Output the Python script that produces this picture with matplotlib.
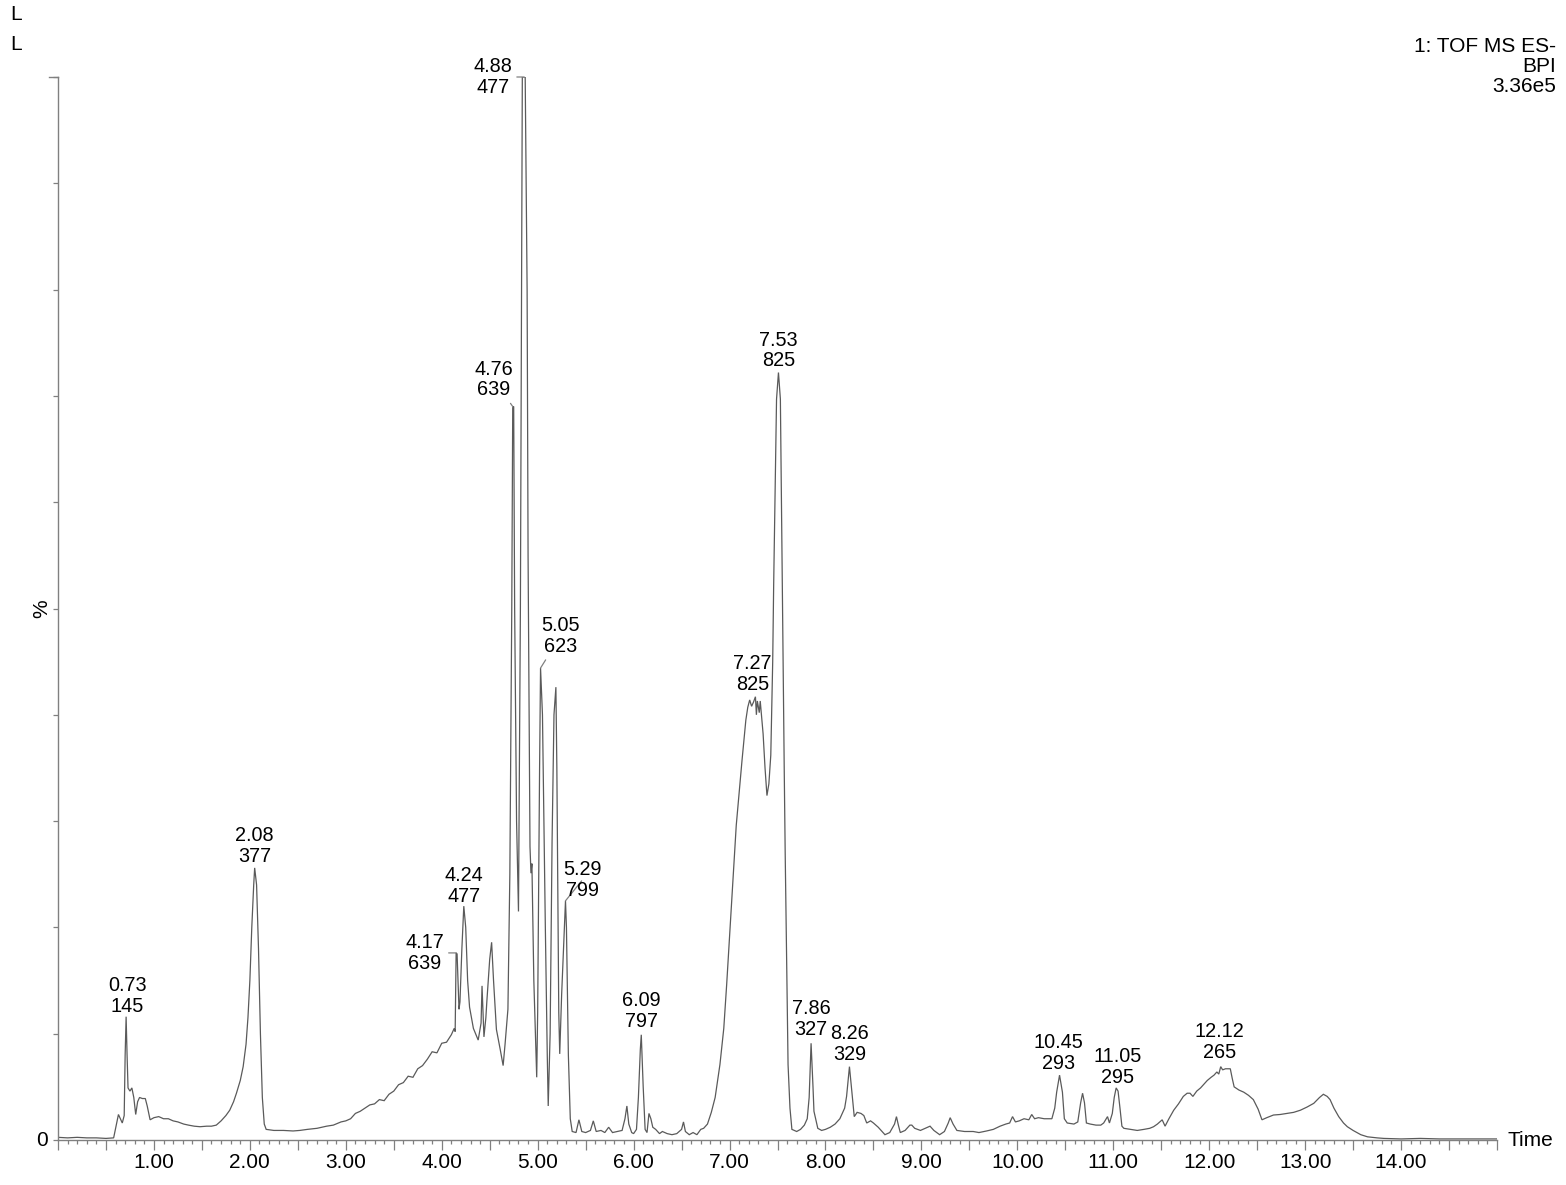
import matplotlib
matplotlib.use("Agg")
import matplotlib.pyplot as plt
from matplotlib.ticker import MultipleLocator, FuncFormatter

plt.rcParams['font.family'] = ['Liberation Sans', 'DejaVu Sans']

# ---------------- data ----------------
trace = [
    (0.00, 0.25), (0.10, 0.2), (0.20, 0.25), (0.30, 0.2), (0.40, 0.2), (0.50, 0.15), (0.58, 0.2),
    (0.61, 1.5), (0.63, 2.4), (0.65, 2.0), (0.67, 1.6), (0.69, 2.3), (0.70, 8.0), (0.71, 11.6),
    (0.72, 8.0), (0.73, 4.9), (0.75, 4.6), (0.77, 4.9), (0.79, 4.0), (0.81, 2.4), (0.83, 3.6),
    (0.85, 4.0), (0.88, 3.9), (0.91, 3.9), (0.93, 3.2), (0.96, 1.9), (1.00, 2.1), (1.05, 2.2),
    (1.10, 2.0), (1.15, 2.0), (1.20, 1.8), (1.25, 1.7), (1.31, 1.5), (1.36, 1.4), (1.42, 1.3),
    (1.48, 1.25), (1.55, 1.3), (1.60, 1.3), (1.65, 1.4), (1.70, 1.8), (1.75, 2.3), (1.79, 2.8),
    (1.83, 3.6), (1.86, 4.4), (1.90, 5.6), (1.93, 6.9), (1.96, 9.0), (1.98, 11.5), (2.00, 15.0),
    (2.02, 20.0), (2.04, 24.0), (2.05, 25.6), (2.07, 24.0), (2.09, 18.0), (2.11, 10.0), (2.13, 4.0),
    (2.15, 1.5), (2.17, 1.0), (2.25, 0.9), (2.35, 0.9), (2.45, 0.85), (2.52, 0.9), (2.60, 1.0),
    (2.70, 1.1), (2.80, 1.3), (2.87, 1.4), (2.95, 1.7), (3.00, 1.8), (3.05, 2.0), (3.10, 2.5),
    (3.15, 2.7), (3.20, 3.0), (3.25, 3.3), (3.30, 3.4), (3.35, 3.8), (3.40, 3.7), (3.45, 4.3),
    (3.50, 4.6), (3.55, 5.2), (3.60, 5.4), (3.65, 6.0), (3.70, 5.9), (3.75, 6.7), (3.80, 7.0),
    (3.85, 7.6), (3.90, 8.3), (3.95, 8.2), (4.00, 9.1), (4.05, 9.2), (4.10, 9.9), (4.13, 10.5),
    (4.14, 10.2), (4.15, 17.6), (4.16, 17.5), (4.17, 15.0), (4.18, 12.3), (4.19, 13.0), (4.21, 18.0),
    (4.23, 22.0), (4.25, 20.0), (4.27, 15.0), (4.29, 12.5), (4.33, 10.5), (4.38, 9.4), (4.41, 11.0),
    (4.42, 14.5), (4.43, 12.0), (4.44, 9.7), (4.46, 11.5), (4.47, 13.0), (4.50, 17.0), (4.52, 18.6),
    (4.54, 15.0), (4.57, 10.4), (4.61, 8.5), (4.64, 7.0), (4.66, 9.0), (4.69, 12.3), (4.71, 25.0),
    (4.73, 50.0), (4.74, 68.9), (4.75, 69.0), (4.76, 50.0), (4.78, 30.0), (4.80, 21.5), (4.82, 50.0),
    (4.84, 100.0), (4.86, 100.0), (4.87, 100.0), (4.89, 80.0), (4.90, 55.0), (4.92, 27.6),
    (4.93, 25.1), (4.94, 26.0), (4.96, 15.0), (4.99, 5.9), (5.00, 12.0), (5.02, 35.0), (5.03, 44.4),
    (5.05, 40.0), (5.08, 20.0), (5.10, 8.0), (5.11, 3.2), (5.13, 10.0), (5.15, 28.0), (5.17, 40.0),
    (5.19, 42.6), (5.20, 35.0), (5.22, 12.0), (5.23, 8.1), (5.25, 13.7), (5.27, 18.0), (5.29, 22.5),
    (5.30, 20.0), (5.32, 8.0), (5.34, 2.0), (5.36, 0.8), (5.40, 0.7), (5.43, 1.9), (5.46, 0.8),
    (5.50, 0.7), (5.55, 0.9), (5.58, 1.8), (5.61, 0.8), (5.66, 0.9), (5.70, 0.7), (5.74, 1.2),
    (5.78, 0.7), (5.83, 0.8), (5.88, 0.9), (5.91, 2.0), (5.93, 3.2), (5.95, 1.5), (5.98, 0.7),
    (6.00, 0.6), (6.03, 1.0), (6.05, 4.0), (6.07, 8.5), (6.08, 9.9), (6.10, 5.0), (6.12, 1.0),
    (6.14, 0.7), (6.16, 2.5), (6.18, 2.0), (6.20, 1.2), (6.23, 1.0), (6.27, 0.6), (6.30, 0.8),
    (6.35, 0.6), (6.40, 0.5), (6.45, 0.6), (6.50, 1.0), (6.52, 1.7), (6.54, 0.8), (6.58, 0.5),
    (6.62, 0.7), (6.66, 0.5), (6.70, 1.0), (6.73, 1.1), (6.77, 1.5), (6.81, 2.6), (6.85, 4.0),
    (6.90, 7.1), (6.94, 10.5), (6.97, 14.6), (7.02, 22.1), (7.07, 29.6), (7.13, 35.7), (7.17, 39.5),
    (7.19, 40.7), (7.21, 41.4), (7.23, 40.8), (7.25, 41.2), (7.27, 41.7), (7.28, 40.0), (7.29, 41.3),
    (7.31, 40.2), (7.32, 41.3), (7.35, 38.2), (7.37, 35.0), (7.39, 32.4), (7.41, 33.5), (7.43, 36.2),
    (7.45, 45.0), (7.46, 52.2), (7.48, 64.0), (7.49, 69.7), (7.51, 72.2), (7.53, 69.7), (7.55, 52.2),
    (7.57, 35.0), (7.58, 27.1), (7.60, 14.0), (7.61, 7.1), (7.63, 3.0), (7.65, 1.0), (7.70, 0.8),
    (7.74, 1.0), (7.78, 1.4), (7.81, 2.0), (7.83, 4.0), (7.85, 9.1), (7.87, 5.0), (7.88, 2.7),
    (7.92, 1.1), (7.96, 0.9), (8.00, 1.0), (8.05, 1.2), (8.10, 1.5), (8.15, 2.0), (8.20, 3.0),
    (8.22, 4.1), (8.25, 6.9), (8.27, 5.0), (8.30, 2.2), (8.33, 2.6), (8.37, 2.5), (8.40, 2.3),
    (8.43, 1.6), (8.47, 1.8), (8.50, 1.6), (8.55, 1.2), (8.62, 0.5), (8.67, 0.7), (8.72, 1.5),
    (8.74, 2.2), (8.76, 1.4), (8.78, 0.7), (8.83, 0.9), (8.88, 1.4), (8.90, 1.4), (8.93, 1.1),
    (8.99, 0.9), (9.04, 1.1), (9.09, 1.3), (9.13, 0.9), (9.19, 0.5), (9.24, 0.8), (9.28, 1.6),
    (9.30, 2.1), (9.33, 1.5), (9.37, 0.9), (9.45, 0.8), (9.54, 0.8), (9.60, 0.7), (9.68, 0.85),
    (9.75, 1.0), (9.82, 1.3), (9.88, 1.5), (9.92, 1.6), (9.95, 2.2), (9.98, 1.7), (10.02, 1.8),
    (10.07, 2.0), (10.12, 1.9), (10.15, 2.4), (10.18, 2.0), (10.22, 2.1), (10.28, 2.0), (10.33, 2.0),
    (10.36, 2.0), (10.39, 3.0), (10.41, 4.5), (10.44, 6.1), (10.47, 4.5), (10.49, 2.0), (10.52, 1.6),
    (10.59, 1.5), (10.63, 1.7), (10.66, 3.5), (10.68, 4.4), (10.70, 3.5), (10.72, 1.6), (10.76, 1.5),
    (10.82, 1.4), (10.87, 1.4), (10.90, 1.6), (10.94, 2.2), (10.96, 1.6), (10.99, 2.5), (11.01, 4.0),
    (11.03, 4.9), (11.05, 4.6), (11.07, 3.0), (11.09, 1.3), (11.11, 1.1), (11.18, 1.0), (11.25, 0.9),
    (11.32, 1.0), (11.38, 1.1), (11.42, 1.25), (11.46, 1.5), (11.51, 1.9), (11.54, 1.3), (11.58, 2.0),
    (11.63, 2.8), (11.68, 3.4), (11.73, 4.1), (11.77, 4.4), (11.80, 4.4), (11.83, 4.1), (11.87, 4.6),
    (11.91, 4.9), (11.95, 5.3), (11.98, 5.6), (12.02, 5.9), (12.05, 6.1), (12.08, 6.4), (12.10, 6.2),
    (12.12, 6.9), (12.14, 6.6), (12.17, 6.7), (12.20, 6.7), (12.22, 6.7), (12.24, 5.8), (12.26, 5.0),
    (12.31, 4.7), (12.36, 4.5), (12.41, 4.2), (12.46, 3.8), (12.51, 2.9), (12.55, 1.9), (12.60, 2.1),
    (12.67, 2.35), (12.74, 2.4), (12.81, 2.5), (12.88, 2.6), (12.95, 2.8), (13.02, 3.1), (13.09, 3.45),
    (13.15, 4.0), (13.19, 4.3), (13.23, 4.1), (13.26, 3.8), (13.30, 3.0), (13.35, 2.2), (13.40, 1.6),
    (13.44, 1.25), (13.50, 0.9), (13.58, 0.5), (13.65, 0.3), (13.75, 0.2), (13.82, 0.15), (14.00, 0.1),
    (14.20, 0.15), (14.40, 0.1), (14.60, 0.1), (14.80, 0.1), (15.00, 0.1),
]
times = [p[0] for p in trace]
intensity = [p[1] for p in trace]

peak_rt_labels = ["0.73", "2.08", "4.17", "4.24", "4.76", "4.88", "5.05", "5.29",
                  "6.09", "7.27", "7.53", "7.86", "8.26", "10.45", "11.05", "12.12"]
peak_mz_labels = ["145", "377", "639", "477", "639", "477", "623", "799",
                  "797", "825", "825", "327", "329", "293", "295", "265"]
peak_times = [0.71, 2.05, 4.15, 4.23, 4.74, 4.86, 5.03, 5.29,
              6.08, 7.27, 7.51, 7.85, 8.25, 10.44, 11.03, 12.12]
peak_heights = [11.6, 25.6, 17.6, 22.0, 69.0, 100.0, 44.4, 22.5,
                9.9, 41.7, 72.2, 9.1, 6.9, 6.1, 4.9, 6.9]

xtick_major = [1, 2, 3, 4, 5, 6, 7, 8, 9, 10, 11, 12, 13, 14]

header_lines = ["1: TOF MS ES-", "BPI", "3.36e5"]

# ---------------- layout / style ----------------
# label-centre offsets from peak apex, in pixels (dx, dy up); leader flag
label_layout = [
    (1, 21, False), (0, 22, False), (-31, 0, True), (0, 20, False),
    (-19, 27, True), (-31, 0, True), (20, 32, True), (17, 21, True),
    (0, 24, False), (-3, 23, False), (0, 22, False), (0, 24, False),
    (0, 23, False), (-1, 22, False), (1, 21, False), (-1, 25, False),
]

W, H = 1566, 1185
fig = plt.figure(figsize=(W / 100, H / 100), dpi=100)
ax_left, ax_right, ax_bottom_px, ax_top_px = 58, 1497, 1140, 77
ax = fig.add_axes([ax_left / W, 1 - ax_bottom_px / H,
                   (ax_right - ax_left) / W, (ax_bottom_px - ax_top_px) / H])

line_col = '#5a5a5a'
axis_col = '#808080'
ax.plot(times, intensity, color=line_col, lw=0.9, solid_joinstyle='miter')

ax.set_xlim(0, 15.0)
ax.set_ylim(0, 100)
for s in ['top', 'right']:
    ax.spines[s].set_visible(False)
for s in ['left', 'bottom']:
    ax.spines[s].set_color(axis_col)
    ax.spines[s].set_linewidth(1.0)

ax.xaxis.set_major_locator(MultipleLocator(0.5))
ax.xaxis.set_minor_locator(MultipleLocator(0.1))
ax.xaxis.set_major_formatter(FuncFormatter(
    lambda v, p: ("%.2f" % v) if (abs(v - round(v)) < 1e-6 and round(v) in xtick_major) else ""))
ax.tick_params(axis='x', which='major', length=7.5, width=0.9, color=axis_col,
               labelsize=15, pad=2, direction='out')
ax.tick_params(axis='x', which='minor', length=3.2, width=0.9, color=axis_col, direction='out')

ax.yaxis.set_major_locator(MultipleLocator(10))
ax.tick_params(axis='y', which='major', length=3.6, width=0.9, color=axis_col,
               labelleft=False, direction='out')
# longer tick at the 100 % mark
ax.plot([-0.09, 0], [100, 100], color=axis_col, lw=1.0, clip_on=False)

# peak annotations
for rt, mz, t, h, (dx, dy, leader) in zip(peak_rt_labels, peak_mz_labels,
                                           peak_times, peak_heights, label_layout):
    kw = {}
    if leader:
        kw['arrowprops'] = dict(arrowstyle='-', color=axis_col, lw=0.9,
                                shrinkA=1, shrinkB=0)
    ax.annotate(rt + "\n" + mz, xy=(t, h), xytext=(dx, dy),
                textcoords='offset pixels', ha='center', va='center',
                fontsize=14.3, linespacing=1.12, color='black',
                annotation_clip=False, **kw)

# axis texts
fig.text(48 / W, 1 - 1140 / H, "0", ha='right', va='center', fontsize=15)
fig.text(42 / W, 1 - 609 / H, "%", ha='center', va='center', fontsize=15, rotation=90)
fig.text(1507 / W, 1 - 1141 / H, "Time", ha='left', va='center', fontsize=15)

fig.text(10 / W, 1 - 14 / H, "L", ha='left', va='center', fontsize=15)
fig.text(10 / W, 1 - 44 / H, "L", ha='left', va='center', fontsize=15)

for i, txt in enumerate(header_lines):
    fig.text(1556 / W, 1 - (46 + 20.5 * i) / H, txt, ha='right', va='center', fontsize=15)

fig.savefig("out.png", dpi=100)
